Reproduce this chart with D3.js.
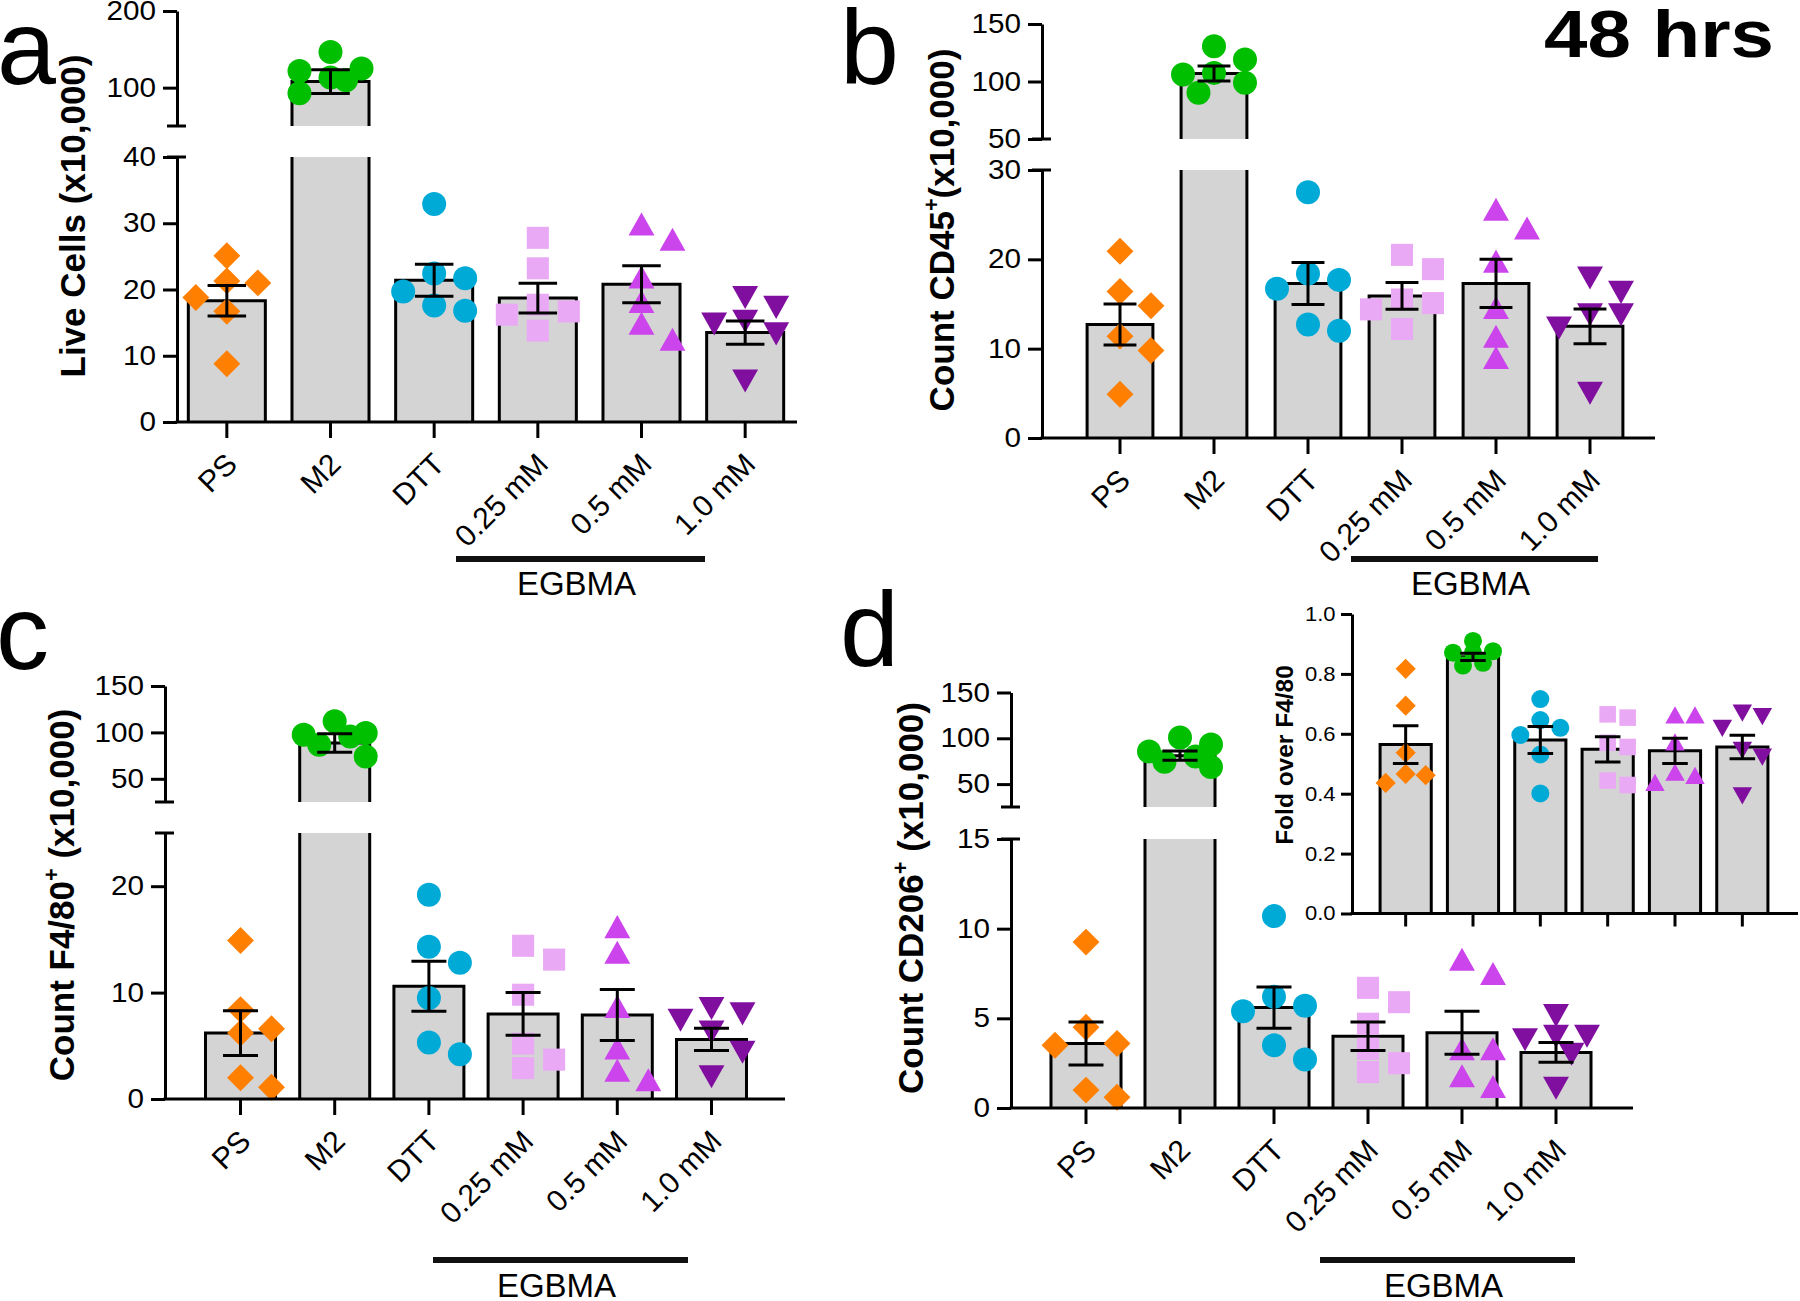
<!DOCTYPE html>
<html><head><meta charset="utf-8">
<script src="https://cdn.jsdelivr.net/npm/d3@7"></script>
<style>
body{margin:0;background:#fff;}
svg text{font-family:"Liberation Sans",Arial,Helvetica,sans-serif;fill:#000;}
</style></head><body>
<svg id="chart" width="1800" height="1301" xmlns="http://www.w3.org/2000/svg"></svg>
<script>
// ---------------- DATA ----------------
const categories = ["PS","M2","DTT","0.25 mM","0.5 mM","1.0 mM"];

// a: Live Cells (x10,000)
const liveCellsPoints = [
  [25.1,21.3,21.0,18.8,16.7,8.8],
  [121.8,125.0,109.6,146.6,113.1,92.7],
  [32.9,22.4,21.7,19.7,16.8,17.6],
  [27.8,23.2,17.7,13.8,16.7,16.2],
  [29.9,27.6,21.9,18.2,14.9,12.5],
  [18.8,17.3,15.2,14.8,13.3,6.2]
];
const liveCellsMean = [18.3,108,21.4,18.7,20.8,13.5];
const liveCellsSem  = [2.3,15.5,2.4,2.25,2.8,1.75];
const liveCellsTicksLow = [0,10,20,30,40];
const liveCellsTicksHigh = [100,200];

// b: Count CD45+ (x10,000)
const cd45Points = [
  [20.9,16.4,14.8,11.4,9.8,4.9],
  [130.6,119.1,107.5,98.9,106.1,90.2],
  [27.5,17.7,18.4,16.7,12.7,12.0],
  [20.5,18.9,15.5,15.1,14.4,12.2],
  [25.6,23.5,19.8,14.6,11.4,9.0],
  [17.9,16.3,13.8,13.8,12.3,5.0]
];
const cd45Mean = [12.7,107,17.3,15.9,17.3,12.5];
const cd45Sem  = [2.3,6.5,2.35,1.5,2.7,1.95];
const cd45TicksLow = [0,10,20,30];
const cd45TicksHigh = [50,100,150];

// c: Count F4/80+ (x10,000)
const f480Points = [
  [14.9,8.4,6.2,6.6,2.0,1.1],
  [111.9,97.5,99.4,95.7,86.7,74.0],
  [19.2,14.3,12.8,9.5,5.3,4.2],
  [14.4,13.1,9.8,5.2,2.9,3.7],
  [16.2,13.8,8.7,4.8,2.7,1.8],
  [8.5,8.0,7.4,6.3,4.4,2.1]
];
const f480Mean = [6.2,88.5,10.6,8.0,7.9,5.6];
const f480Sem  = [2.1,10,2.35,2.0,2.4,1.05];
const f480TicksLow = [0,10,20];
const f480TicksHigh = [50,100,150];

// d: Count CD206+ (x10,000)
const cd206Points = [
  [9.25,4.5,3.6,3.5,1.0,0.6],
  [100.8,93.2,85.7,80.0,74.3,68.7],
  [10.7,6.2,5.7,5.4,3.5,2.7],
  [6.7,5.9,4.7,3.3,2.5,2.0],
  [8.3,7.5,3.3,3.3,1.8,1.2],
  [5.15,4.0,4.0,3.8,3.0,1.1]
];
const cd206Mean = [3.6,81,5.6,4.0,4.2,3.1];
const cd206Sem  = [1.2,5,1.15,0.8,1.2,0.55];
const cd206TicksLow = [0,5,10,15];
const cd206TicksHigh = [50,100,150];

// d inset: Fold over F4/80
const foldPoints = [
  [0.817,0.694,0.537,0.466,0.462,0.436],
  [0.91,0.876,0.871,0.871,0.837,0.828],
  [0.716,0.646,0.62,0.596,0.531,0.401],
  [0.654,0.665,0.556,0.57,0.429,0.444],
  [0.663,0.663,0.573,0.472,0.461,0.438],
  [0.657,0.669,0.618,0.545,0.522,0.393]
];
const foldMean = [0.564,0.857,0.579,0.548,0.543,0.556];
const foldSem  = [0.063,0.012,0.045,0.042,0.042,0.039];
const foldTicks = [0,0.2,0.4,0.6,0.8,1.0];

// ---------------- STYLE ----------------
const groupColors = ["#ff7f00","#00bf00","#00aad6","#eaa9f4","#cc44ec","#800fa0"];
const groupShapes = ["diamond","circle","circle","square","triUp","triDown"];
const BAR_FILL = "#d4d4d4";
const FONT = '"Liberation Sans",Arial,Helvetica,sans-serif';

function shapeType(kind){
  return {draw(ctx, s){
    const r = s/2;
    if(kind==="circle"){ ctx.moveTo(r,0); ctx.arc(0,0,r,0,2*Math.PI); }
    else if(kind==="square"){ const h=s*0.46; ctx.moveTo(-h,-h); ctx.lineTo(h,-h); ctx.lineTo(h,h); ctx.lineTo(-h,h); ctx.closePath(); }
    else if(kind==="diamond"){ const h=s*0.56; ctx.moveTo(0,-h); ctx.lineTo(h,0); ctx.lineTo(0,h); ctx.lineTo(-h,0); ctx.closePath(); }
    else if(kind==="triUp"){ const w=s*0.54,h=s*0.48; ctx.moveTo(0,-h); ctx.lineTo(w,h); ctx.lineTo(-w,h); ctx.closePath(); }
    else { const w=s*0.54,h=s*0.48; ctx.moveTo(0,h); ctx.lineTo(w,-h); ctx.lineTo(-w,-h); ctx.closePath(); }
  }};
}

const svg = d3.select("#chart");

// simple scatter spreading (like a column scatter): offsets within +-1 slot
function swarmOffsets(ys, mk, step){
  const order = ys.map((v,i)=>i).sort((a,b)=>ys[a]-ys[b]);
  const cands = [0,1,-1,0.5,-0.5].map(c=>c*step);
  const placed = [], offs = new Array(ys.length);
  for(const i of order){
    let best = 0, bestD = -1;
    for(const c of cands){
      const d = placed.length ? Math.min(...placed.map(p=>Math.hypot(p.x-c, p.y-ys[i]))) : Infinity;
      if(d >= mk*0.85){ best = c; break; }
      if(d > bestD){ bestD = d; best = c; }
    }
    offs[i] = best; placed.push({x:best, y:ys[i]});
  }
  return offs;
}

function drawPanel(cfg){
  const g = svg.append("g");
  const x = d3.scaleBand().domain(categories).range(cfg.xRange).paddingInner(cfg.pad).paddingOuter(cfg.pad/2);
  const bw = x.bandwidth();
  const segs = cfg.segs.map(s=>({...s, y:d3.scaleLinear().domain(s.domain).range(s.range)}));
  const segOf = v => { for(let k=segs.length-1;k>=0;k--) if(v>=segs[k].domain[0]) return segs[k]; return segs[0]; };
  const y0 = segs[0].y(0);
  const lw = cfg.lw;

  // bars
  categories.forEach((c,i)=>{
    const m = cfg.mean[i];
    segs.forEach(s=>{
      if(m < s.domain[0]) return;
      const hi = Math.min(m, s.domain[1]);
      const yl = s.y(s.domain[0]), yh = s.y(hi);
      const xl = x(c), xr = x(c)+bw;
      g.append("rect").attr("x",xl).attr("y",yh).attr("width",bw).attr("height",yl-yh).attr("fill",BAR_FILL);
      const p = d3.path();
      p.moveTo(xl,yl); p.lineTo(xl,yh);
      if(m <= s.domain[1]) p.lineTo(xr,yh); else p.moveTo(xr,yh);
      p.lineTo(xr,yl);
      g.append("path").attr("d",p.toString()).attr("fill","none").attr("stroke","#000").attr("stroke-width",lw).attr("stroke-linejoin","miter");
    });
  });

  // points
  categories.forEach((c,i)=>{
    const vals = cfg.points[i];
    const ys = vals.map(v=>segOf(v).y(v));
    const offs = swarmOffsets(ys, cfg.mk, cfg.step);
    const sym = d3.symbol().type(shapeType(groupShapes[i])).size(cfg.mk);
    g.append("g").selectAll("path").data(vals).join("path")
      .attr("d", sym)
      .attr("transform",(d,j)=>`translate(${x(c)+bw/2+offs[j]},${ys[j]})`)
      .attr("fill", groupColors[i]);
  });

  // error bars
  categories.forEach((c,i)=>{
    const m = cfg.mean[i], e = cfg.sem[i];
    const s = segOf(m);
    const cx = x(c)+bw/2, cw = bw*cfg.capFrac/2;
    const yt = s.y(m+e), yb = s.y(m-e);
    const p = d3.path();
    p.moveTo(cx,yt); p.lineTo(cx,yb);
    p.moveTo(cx-cw,yt); p.lineTo(cx+cw,yt);
    p.moveTo(cx-cw,yb); p.lineTo(cx+cw,yb);
    g.append("path").attr("d",p.toString()).attr("fill","none").attr("stroke","#000").attr("stroke-width",lw);
  });

  // y axis segments
  segs.forEach(s=>{
    const ax = d3.axisLeft(s.y).tickValues(s.ticks).tickSize(cfg.tickLen).tickSizeOuter(0).tickPadding(cfg.tickPad).tickFormat(cfg.fmt);
    const ag = g.append("g").attr("transform",`translate(${cfg.axisX},0)`).call(ax);
    ag.selectAll("path,line").attr("stroke","#000").attr("stroke-width",lw);
    ag.selectAll("text").attr("font-size",cfg.tickFont).attr("font-family",FONT).attr("fill","#000")
      .attr("transform","scale(1.1,1)");
  });
  // break caps
  if(segs.length>1){
    [segs[0].range[1], segs[1].range[0]].forEach(yy=>{
      g.append("line").attr("x1",cfg.axisX-10).attr("x2",cfg.axisX+9).attr("y1",yy).attr("y2",yy)
        .attr("stroke","#000").attr("stroke-width",lw);
    });
  }
  // x axis
  const xa = d3.axisBottom(x).tickSize(cfg.xTickLen).tickSizeOuter(0).tickFormat("");
  const xg = g.append("g").attr("transform",`translate(0,${y0})`).call(xa);
  xg.select(".domain").remove();
  xg.selectAll("line").attr("stroke","#000").attr("stroke-width",lw);
  g.append("line").attr("x1",cfg.axisX-lw/2).attr("x2",cfg.axisEnd).attr("y1",y0).attr("y2",y0)
    .attr("stroke","#000").attr("stroke-width",lw);

  // category labels
  if(cfg.catLabels){
    categories.forEach(c=>{
      g.append("text").attr("transform",`translate(${x(c)+bw/2+cfg.catDx},${y0+cfg.catDy}) rotate(-45)`)
        .attr("text-anchor","end").attr("font-size",cfg.catFont).text(c);
    });
  }
  // EGBMA bracket
  if(cfg.egbma){
    const b = cfg.egbma;
    g.append("line").attr("x1",b.x1).attr("x2",b.x2).attr("y1",b.y).attr("y2",b.y).attr("stroke","#111").attr("stroke-width",6);
    g.append("text").attr("x",(b.x1+b.x2)/2-4).attr("y",b.ty).attr("text-anchor","middle").attr("font-size",33).text("EGBMA");
  }
  // y label
  const yl = g.append("text").attr("transform",`translate(${cfg.ylab.x},${cfg.ylab.y}) rotate(-90)`)
    .attr("text-anchor","middle").attr("font-weight","bold").attr("font-size",cfg.ylab.size);
  yl.append("tspan").text(cfg.ylab.parts[0]);
  if(cfg.ylab.parts.length>1){
    const fs = cfg.ylab.size;
    yl.append("tspan").attr("dy",-fs*0.42).attr("font-size",fs*0.62).text("+");
    yl.append("tspan").attr("dy",fs*0.42).text(cfg.ylab.parts[1]);
  }
}

const common = {lw:3, mk:24, step:31, tickLen:14, tickPad:5, tickFont:27, xTickLen:16, capFrac:0.5,
  catLabels:true, catDx:12, catDy:44, catFont:30, fmt:d3.format("d")};

drawPanel({...common,
  points:liveCellsPoints, mean:liveCellsMean, sem:liveCellsSem,
  axisX:177, axisEnd:797, xRange:[175,797], pad:0.257,
  segs:[{domain:[0,40],range:[422,157],ticks:liveCellsTicksLow},{domain:[50,200],range:[126,11],ticks:liveCellsTicksHigh}],
  egbma:{x1:456,x2:705,y:559,ty:595},
  ylab:{x:85,y:216,size:35,parts:["Live Cells (x10,000)"]}
});
drawPanel({...common,
  points:cd45Points, mean:cd45Mean, sem:cd45Sem,
  axisX:1042, axisEnd:1655, xRange:[1073,1637], pad:0.30,
  segs:[{domain:[0,30],range:[438,170],ticks:cd45TicksLow},{domain:[50,150],range:[139,24],ticks:cd45TicksHigh}],
  egbma:{x1:1351,x2:1598,y:559,ty:595},
  ylab:{x:954,y:230,size:35,parts:["Count CD45","(x10,000)"]}
});
drawPanel({...common,
  points:f480Points, mean:f480Mean, sem:f480Sem,
  axisX:165, axisEnd:785, xRange:[193.4,758.6], pad:0.257,
  segs:[{domain:[0,25],range:[1099,833],ticks:f480TicksLow},{domain:[25,150],range:[802,686],ticks:f480TicksHigh}],
  egbma:{x1:433,x2:688,y:1260,ty:1297},
  ylab:{x:74,y:895,size:35,parts:["Count F4/80"," (x10,000)"]}
});
drawPanel({...common,
  points:cd206Points, mean:cd206Mean, sem:cd206Sem,
  axisX:1011, axisEnd:1633, xRange:[1039,1603], pad:0.255,
  segs:[{domain:[0,15],range:[1108,839],ticks:cd206TicksLow},{domain:[25,150],range:[807,692.5],ticks:cd206TicksHigh}],
  egbma:{x1:1320,x2:1575,y:1260,ty:1297},
  ylab:{x:923,y:898,size:35,parts:["Count CD206"," (x10,000)"]}
});
// inset
drawPanel({...common, mk:18, step:20, tickLen:11, tickPad:4, tickFont:20, xTickLen:13, catLabels:false,
  fmt:d3.format(".1f"),
  points:foldPoints, mean:foldMean, sem:foldSem,
  axisX:1352, axisEnd:1798, xRange:[1372,1776], pad:0.24,
  segs:[{domain:[0,1],range:[913.5,614],ticks:foldTicks}],
  egbma:null,
  ylab:{x:1293,y:755,size:24.5,parts:["Fold over F4/80"]}
});

// panel letters and title
[["a",-3,84],["b",840,84],["c",-4,669],["d",840,666]].forEach(([t,xx,yy])=>{
  svg.append("text").attr("x",xx).attr("y",yy).attr("font-size",106).text(t);
});
svg.append("text").attr("x",1544).attr("y",57).attr("font-size",67).attr("font-weight","bold")
  .attr("textLength",230).attr("lengthAdjust","spacingAndGlyphs").text("48 hrs");
</script>
</body></html>
